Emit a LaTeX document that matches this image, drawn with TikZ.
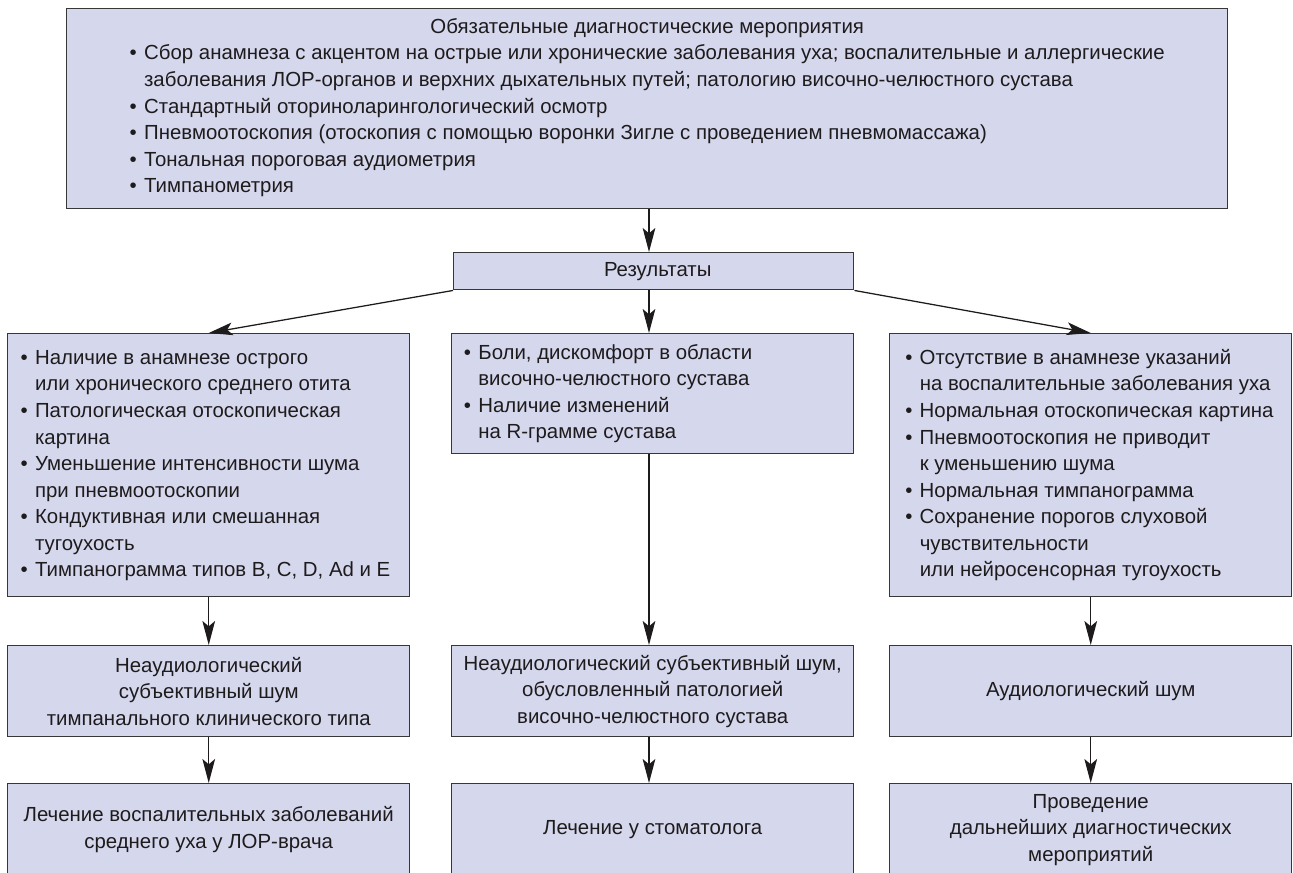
\documentclass[tikz,border=0pt]{standalone}
\usepackage{fontspec}
\setmainfont{Liberation Sans}
\usetikzlibrary{arrows.meta}
\definecolor{boxfill}{RGB}{213,215,237}
\definecolor{boxline}{RGB}{55,55,55}
\definecolor{txtc}{RGB}{30,27,28}
\newcommand{\bli}{\textbullet}
\newenvironment{blist}{\begin{tabular}{@{}l@{\hspace{5.5pt}}l@{}}}{\end{tabular}}
\begin{document}
\begin{tikzpicture}[x=0.75pt,y=-0.75pt,
  box/.style={draw=boxline, fill=boxfill, line width=1.1pt, rectangle, inner sep=0pt, anchor=north west},
  wide/.style={minimum width=301.5pt},
  tx/.style={text=txtc, font=\fontsize{15.3pt}{19.9pt}\selectfont, inner sep=0pt},
  arr/.style={draw=txtc, line width=0.95pt, -{Stealth[length=18pt,width=9.5pt,inset=4pt]}}]
\useasboundingbox (0,0) rectangle (1293,872);
\clip (0,0) rectangle (1293,872);
\coordinate (cx) at (649,0);
% boxes
\node[box, minimum width=870.75pt, minimum height=150pt] (top) at (66,8) {};
\node[box, minimum width=300pt, minimum height=27.75pt] (res) at (453,252) {};
\node[box, wide, minimum height=197.25pt] (L1) at (7,333) {};
\node[box, wide, minimum height=90pt] (M1) at (451,333) {};
\node[box, wide, minimum height=197.25pt] (R1) at (889,333) {};
\node[box, wide, minimum height=68.25pt] (L2) at (7,645) {};
\node[box, wide, minimum height=68.25pt] (M2) at (451,645) {};
\node[box, wide, minimum height=68.25pt] (R2) at (889,645) {};
\node[box, wide, minimum height=69pt] (L3) at (7,783) {};
\node[box, wide, minimum height=69pt] (M3) at (451,783) {};
\node[box, wide, minimum height=69pt] (R3) at (889,783) {};
% texts
\node[tx] (topt) at ([yshift=0.75pt]top.center) {\begin{blist}
\multicolumn{2}{c}{Обязательные диагностические мероприятия}\\
\bli & Сбор анамнеза с акцентом на острые или хронические заболевания уха; воспалительные и аллергические\\
 & заболевания ЛОР-органов и верхних дыхательных путей; патологию височно-челюстного сустава\\
\bli & Стандартный оториноларингологический осмотр\\
\bli & Пневмоотоскопия (отоскопия с помощью воронки Зигле с проведением пневмомассажа)\\
\bli & Тональная пороговая аудиометрия\\
\bli & Тимпанометрия
\end{blist}};
\node[tx] (rest) at ([xshift=3pt]res.center) {Результаты};
\node[tx, anchor=west] (L1t) at ([xshift=10pt]L1.west) {\begin{blist}
\bli & Наличие в анамнезе острого\\
 & или хронического среднего отита\\
\bli & Патологическая отоскопическая\\
 & картина\\
\bli & Уменьшение интенсивности шума\\
 & при пневмоотоскопии\\
\bli & Кондуктивная или смешанная\\
 & тугоухость\\
\bli & Тимпанограмма типов B, C, D, Ad и E
\end{blist}};
\node[tx, anchor=west] (M1t) at ([xshift=9.5pt]M1.west) {\begin{blist}
\bli & Боли, дискомфорт в области\\
 & височно-челюстного сустава\\
\bli & Наличие изменений\\
 & на R-грамме сустава
\end{blist}};
\node[tx, anchor=west] (R1t) at ([xshift=12pt]R1.west) {\begin{blist}
\bli & Отсутствие в анамнезе указаний\\
 & на воспалительные заболевания уха\\
\bli & Нормальная отоскопическая картина\\
\bli & Пневмоотоскопия не приводит\\
 & к уменьшению шума\\
\bli & Нормальная тимпанограмма\\
\bli & Сохранение порогов слуховой\\
 & чувствительности\\
 & или нейросенсорная тугоухость
\end{blist}};
\node[tx, align=center] (L2t) at (L2.center) {Неаудиологический\\субъективный шум\\тимпанального клинического типа};
\node[tx, align=center] (M2t) at (M2.center) {Неаудиологический субъективный шум,\\обусловленный патологией\\височно-челюстного сустава};
\node[tx, align=center] (R2t) at (R2.center) {Аудиологический шум};
\node[tx, align=center] (L3t) at (L3.center) {Лечение воспалительных заболеваний\\среднего уха у ЛОР-врача};
\node[tx, align=center] (M3t) at (M3.center) {Лечение у стоматолога};
\node[tx, align=center] (R3t) at (R3.center) {Проведение\\дальнейших диагностических\\мероприятий};
% connectors
\draw[arr] (top.south -| cx) -- (res.north -| cx);
\draw[arr] (res.south west) -- (L1.north);
\draw[arr] (res.south -| cx) -- (M1.north -| cx);
\draw[arr] (res.south east) -- (R1.north);
\draw[arr] (L1.south) -- (L2.north);
\draw[arr] (M1.south -| cx) -- (M2.north -| cx);
\draw[arr] (R1.south) -- (R2.north);
\draw[arr] (L2.south) -- (L3.north);
\draw[arr] (M2.south -| cx) -- (M3.north -| cx);
\draw[arr] (R2.south) -- (R3.north);
\end{tikzpicture}
\end{document}
